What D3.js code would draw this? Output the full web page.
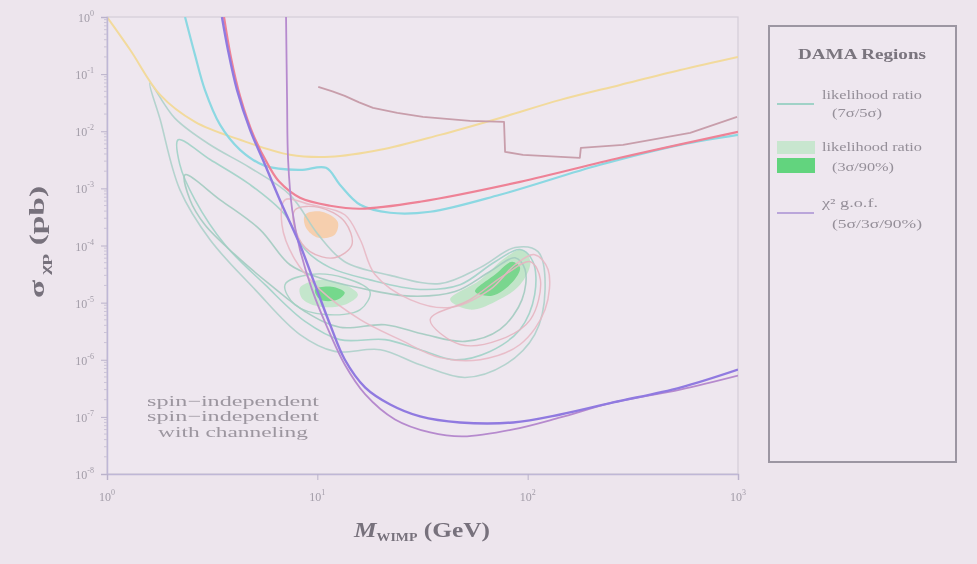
<!DOCTYPE html>
<html>
<head>
<meta charset="utf-8">
<script src="https://cdn.jsdelivr.net/npm/d3@7"></script>
<style>
  body { margin: 0; background: #ede5ed; }
  text { font-family: "Liberation Serif", "DejaVu Serif", serif; }
</style>
</head>
<body>
<svg id="chart"></svg>
<script>
// Chart size
var svgWidth = 977;
var svgHeight = 564;

var margin = { top: 17, right: 239, bottom: 90, left: 107 };

// Axis ticks (powers of ten)
var massTicks = [1, 10, 100, 1000];
var massExp = [0, 1, 2, 3];
var sigmaTicks = [1, 1e-1, 1e-2, 1e-3, 1e-4, 1e-5, 1e-6, 1e-7, 1e-8];
var sigmaExp = [0, -1, -2, -3, -4, -5, -6, -7, -8];

// Exclusion limits: [mass GeV, sigma pb]
var yellowLimit = [[1, 1.0], [1.29, 0.265], [1.79, 0.0433], [2.62, 0.0146], [4.29, 7.08e-3],
  [7.41, 3.87e-3], [11.5, 3.57e-3], [19.9, 4.73e-3], [38.3, 8.65e-3], [73.9, 0.0171],
  [143, 0.0354], [275, 0.0647], [531, 0.118], [1000, 0.2]];

var cyanLimit = [[2.35, 1.0], [2.62, 0.217], [2.92, 0.053], [3.45, 0.0129], [4.29, 4.73e-3],
  [5.64, 2.48e-3], [8.27, 2.11e-3], [11.0, 2.29e-3], [12.8, 1.16e-3], [16.0, 5.16e-4],
  [22.2, 3.74e-4], [34.4, 3.9e-4], [73.9, 7.73e-4], [221, 2.59e-3], [531, 5.78e-3], [1000, 8.65e-3]];

var redLimit = [[3.6, 1.0], [3.88, 0.2], [4.3, 0.04], [5.0, 8e-3], [5.9, 2.4e-3], [6.6, 1.3e-3],
  [8.27, 6.85e-4], [11.5, 4.97e-4], [16.0, 4.4e-4], [30.8, 5.83e-4], [92, 1.3e-3],
  [275, 3.43e-3], [1000, 9.77e-3]];

var mauveLimit = [[10.1, 0.0597], [11.8, 0.05], [13.5, 0.0416], [15.8, 0.032], [18.4, 0.0256],
  [24, 0.021], [31.8, 0.0179], [53.2, 0.0152], [77.2, 0.0146], [78.1, 4.36e-3],
  [95.1, 3.87e-3], [177, 3.43e-3], [179, 5.13e-3], [284, 5.78e-3], [592, 9.38e-3], [990, 0.0179]];

var xenonLimit = [[3.52, 1.0], [3.76, 0.265], [4.15, 0.053], [4.79, 0.0106], [5.64, 2.59e-3],
  [6.79, 5.16e-4], [8.27, 1.03e-4], [9.75, 2.06e-5], [11.5, 4.12e-6], [13.5, 1.01e-6],
  [16.9, 3.26e-7], [22.2, 1.65e-7], [30.8, 1.02e-7], [47.7, 7.98e-8], [85.3, 7.98e-8],
  [143, 1.10e-7], [255, 1.79e-7], [531, 3.26e-7], [1000, 6.74e-7]];

var cdmsLimit = [[7.10, 1.0], [7.18, 0.0354], [7.26, 3.16e-3], [7.59, 4.23e-4], [8.27, 8.45e-5],
  [9.44, 1.69e-5], [11.0, 4.12e-6], [13.5, 8.24e-7], [16.9, 2.47e-7], [23.4, 9.0e-8],
  [34.4, 5.33e-8], [49.3, 4.54e-8], [85.3, 6.03e-8], [143, 9.77e-8], [255, 1.79e-7],
  [531, 3.01e-7], [1000, 5.3e-7]];

// DAMA contours: [mass GeV, sigma pb]
var tealOuter = [[1.60, 7.0e-2], [2.10, 1.7e-2], [3.09, 5.8e-3], [4.79, 2.3e-3], [7.41, 7.7e-4],
  [10.1, 1.55e-4], [13.5, 5.2e-5], [22.2, 3.0e-5], [38.3, 2.15e-5], [59.4, 4.1e-5],
  [87.1, 9.2e-5], [112, 7.8e-5], [121, 1.7e-5], [108, 2.76e-6], [78.1, 8.2e-7],
  [50.4, 4.9e-7], [30.8, 8.2e-7], [19.9, 1.5e-6], [12.1, 1.4e-6], [8.27, 2.76e-6],
  [5.06, 1.69e-5], [3.09, 1.26e-4], [2.22, 9.5e-4], [1.79, 1.6e-2]];

var tealMid = [[2.18, 7.1e-3], [3.09, 3.2e-3], [4.79, 1.16e-3], [7.02, 3.45e-4], [8.74, 8.5e-5],
  [11.5, 4.1e-5], [17.8, 2.5e-5], [30.8, 1.7e-5], [47.7, 2.06e-5], [70.0, 5.2e-5],
  [92.0, 8.5e-5], [106, 5.2e-5], [108, 1.38e-5], [92.0, 3.4e-6], [66.2, 1.4e-6],
  [45.2, 1.0e-6], [30.8, 1.5e-6], [21.0, 2.25e-6], [12.8, 2.25e-6], [8.74, 4.7e-6],
  [5.64, 2.06e-5], [3.64, 1.03e-4], [2.62, 6.3e-4], [2.22, 2.6e-3]];

var tealInner = [[2.35, 1.73e-3], [3.45, 6.3e-4], [5.34, 1.9e-4], [7.41, 4.6e-5], [10.3, 2.7e-5],
  [16.0, 1.8e-5], [27.6, 1.3e-5], [45.2, 1.56e-5], [66.2, 3.5e-5], [87.1, 6.1e-5],
  [97.2, 3.8e-5], [94.0, 1.13e-5], [73.9, 3.4e-6], [50.4, 2.1e-6], [32.5, 2.76e-6],
  [21.0, 4.1e-6], [12.8, 3.7e-6], [8.74, 7.0e-6], [5.96, 2.06e-5], [4.06, 6.9e-5],
  [2.92, 2.3e-4], [2.48, 6.3e-4]];

var tealRingLow = [[7.02, 2.06e-5], [9.23, 3.1e-5], [13.5, 2.7e-5], [17.8, 1.56e-5],
  [16.0, 7.55e-6], [10.9, 6.2e-6], [7.83, 9.2e-6]];

var pinkOuter = [[7.02, 6.3e-4], [9.23, 5.2e-4], [13.5, 3.45e-4], [16.0, 1.26e-4], [18.8, 3.1e-5],
  [27.6, 1.13e-5], [42.8, 8.2e-6], [66.2, 1.69e-5], [87.1, 4.6e-5], [108, 6.9e-5],
  [125, 3.8e-5], [121, 7.55e-6], [92.0, 1.85e-6], [59.4, 1.0e-6], [38.3, 1.09e-6],
  [24.7, 2.25e-6], [16.0, 5.05e-6], [10.3, 1.69e-5], [7.83, 5.65e-5], [6.79, 2.3e-4]];

var pinkHigh = [[34.4, 5.05e-6], [53.2, 1.13e-5], [78.1, 3.1e-5], [103, 5.2e-5], [115, 2.5e-5],
  [103, 5.05e-6], [73.9, 2.25e-6], [47.7, 1.85e-6]];

var pinkInner = [[7.83, 4.2e-4], [10.3, 4.6e-4], [13.5, 2.6e-4], [14.6, 1.03e-4], [12.1, 6.1e-5],
  [9.23, 7.8e-5], [7.92, 1.74e-4]];

var orangeBlob = [[8.74, 3.45e-4], [10.5, 3.9e-4], [12.5, 2.6e-4], [12.1, 1.55e-4], [10.1, 1.37e-4],
  [8.83, 2.05e-4]];

var greenLightLow = [[8.27, 1.83e-5], [10.3, 2.5e-5], [13.5, 2.06e-5], [15.6, 1.38e-5],
  [13.5, 9.2e-6], [10.3, 8.5e-6], [8.55, 1.13e-5]];
var greenDarkLow = [[9.75, 1.69e-5], [11.7, 1.9e-5], [13.5, 1.5e-5], [12.5, 1.13e-5], [10.3, 1.13e-5]];

var greenLightHigh = [[42.8, 1.13e-5], [59.4, 2.5e-5], [78.1, 6.1e-5], [94.0, 8.5e-5], [103, 5.2e-5],
  [92.0, 2.06e-5], [70.0, 1.04e-5], [53.2, 7.55e-6]];
var greenDarkHigh = [[56.2, 1.56e-5], [70.0, 3.1e-5], [84.3, 5.2e-5], [92.0, 4.1e-5], [84.3, 2.24e-5],
  [67.7, 1.32e-5]];

var annotationLines = ["spin\u2212independent", "spin\u2212independent", "with channeling"];

var legendTitle = "DAMA Regions";
var legendLabels = [
  ["likelihood ratio", "(7\u03c3/5\u03c3)"],
  ["likelihood ratio", "(3\u03c3/90%)"],
  ["\u03c7\u00b2 g.o.f.", "(5\u03c3/3\u03c3/90%)"]
];

// svg setup
var svg = d3.select("#chart")
  .attr("width", svgWidth)
  .attr("height", svgHeight);

// soft blur, the reference is a faded scan
var defs = svg.append("defs");
defs.append("filter").attr("id", "soft")
  .append("feGaussianBlur").attr("stdDeviation", 0.55);

defs.append("clipPath").attr("id", "plotClip")
  .append("rect").attr("x", 107).attr("y", 17).attr("width", 631).attr("height", 457);

var root = svg.append("g").attr("filter", "url(#soft)");

root.append("rect")
  .attr("width", svgWidth)
  .attr("height", svgHeight)
  .attr("fill", "#ede5ed");

var x0 = margin.left, x1 = svgWidth - margin.right;   // 107 .. 738
var y0 = margin.top, y1 = svgHeight - margin.bottom;  // 17 .. 474

var xScale = d3.scaleLog().domain([1, 1000]).range([x0, x1]);
var yScale = d3.scaleLog().domain([1e-8, 1]).range([y1, y0]);

// plot frame
root.append("rect")
  .attr("x", x0).attr("y", y0)
  .attr("width", x1 - x0).attr("height", y1 - y0)
  .attr("fill", "#eee7ef")
  .attr("stroke", "#d4cdd8")
  .attr("stroke-width", 1.2);

var plot = root.append("g").attr("clip-path", "url(#plotClip)");

var line = d3.line()
  .x(d => xScale(d[0]))
  .y(d => yScale(d[1]))
  .curve(d3.curveCatmullRom.alpha(0.5));

var stepLine = d3.line()
  .x(d => xScale(d[0]))
  .y(d => yScale(d[1]));

var closedLine = d3.line()
  .x(d => xScale(d[0]))
  .y(d => yScale(d[1]))
  .curve(d3.curveCatmullRomClosed.alpha(0.5));

// filled regions first
plot.append("path").datum(greenLightLow).attr("d", closedLine).attr("fill", "#bfe6c8").attr("opacity", 0.9);
plot.append("path").datum(greenLightHigh).attr("d", closedLine).attr("fill", "#bce4c4").attr("opacity", 0.9);
plot.append("path").datum(greenDarkLow).attr("d", closedLine).attr("fill", "#74d88c");
plot.append("path").datum(greenDarkHigh).attr("d", closedLine).attr("fill", "#7ad68e");
plot.append("path").datum(orangeBlob).attr("d", closedLine).attr("fill", "#f6cca6").attr("opacity", 0.9);

// contour lines
var contours = [
  { data: tealOuter, color: "#add0ca", width: 1.6 },
  { data: tealMid, color: "#a0d2c7", width: 1.6 },
  { data: tealInner, color: "#a2cbc0", width: 1.6 },
  { data: tealRingLow, color: "#a2d0c2", width: 1.4 },
  { data: pinkOuter, color: "#e8b8c4", width: 1.5 },
  { data: pinkHigh, color: "#e6b4c0", width: 1.4 },
  { data: pinkInner, color: "#e4b0ba", width: 1.4 }
];

contours.forEach(function(c) {
  plot.append("path")
    .datum(c.data)
    .attr("d", closedLine)
    .attr("fill", "none")
    .attr("stroke", c.color)
    .attr("stroke-width", c.width)
    .attr("opacity", 0.9);
});

// exclusion curves
var limits = [
  { data: yellowLimit, color: "#f2da9c", width: 2 },
  { data: mauveLimit, color: "#c89eab", width: 1.8 },
  { data: cyanLimit, color: "#8cd8e2", width: 2.2 },
  { data: redLimit, color: "#ee8296", width: 2.2 },
  { data: cdmsLimit, color: "#b68ace", width: 1.8 },
  { data: xenonLimit, color: "#907ae0", width: 2.4 }
];

limits.forEach(function(l) {
  plot.append("path")
    .datum(l.data)
    .attr("d", l.data === mauveLimit ? stepLine : line)
    .attr("fill", "none")
    .attr("stroke", l.color)
    .attr("stroke-width", l.width)
    .attr("stroke-linejoin", "round");
});

// axes
var leftAxis = d3.axisLeft(yScale).tickValues(sigmaTicks).tickFormat(() => "").tickSize(6);
var bottomAxis = d3.axisBottom(xScale).tickValues(massTicks).tickFormat(() => "").tickSize(6);

var yAxisG = root.append("g").attr("transform", `translate(${x0},0)`).call(leftAxis);
var xAxisG = root.append("g").attr("transform", `translate(0,${y1})`).call(bottomAxis);

[yAxisG, xAxisG].forEach(function(g) {
  g.select(".domain").attr("stroke", "#bfb7d6").attr("stroke-width", 1.5);
  g.selectAll(".tick line").attr("stroke", "#bab2ca");
});

// minor ticks
var minorY = [];
sigmaExp.slice(1).forEach(function(e) {
  [2, 3, 4, 5, 6, 7, 8, 9].forEach(function(m) { minorY.push(m * Math.pow(10, e)); });
});
root.append("g").selectAll("line").data(minorY).enter().append("line")
  .attr("x1", x0).attr("x2", x0 - 3)
  .attr("y1", d => yScale(d)).attr("y2", d => yScale(d))
  .attr("stroke", "#cbc3d7");

// tick labels with superscripts
root.append("g").selectAll("text").data(sigmaTicks).enter().append("text")
  .attr("x", x0 - 13)
  .attr("y", d => yScale(d) + 5)
  .attr("text-anchor", "end")
  .attr("font-size", 12)
  .attr("fill", "#a29ca8")
  .each(function(d, i) {
    var t = d3.select(this);
    t.append("tspan").text("10");
    t.append("tspan").attr("dy", -6).attr("font-size", 8).text(sigmaExp[i]);
  });

root.append("g").selectAll("text").data(massTicks).enter().append("text")
  .attr("x", d => xScale(d))
  .attr("y", y1 + 27)
  .attr("text-anchor", "middle")
  .attr("font-size", 12)
  .attr("fill", "#a29ca8")
  .each(function(d, i) {
    var t = d3.select(this);
    t.append("tspan").text("10");
    t.append("tspan").attr("dy", -6).attr("font-size", 8).text(massExp[i]);
  });

// axis titles
var yTitle = root.append("text")
  .attr("transform", "translate(44,242) rotate(-90)")
  .attr("text-anchor", "middle")
  .attr("font-size", 21)
  .attr("font-weight", "bold")
  .attr("fill", "#77717c")
  .attr("textLength", 112)
  .attr("lengthAdjust", "spacingAndGlyphs");
yTitle.append("tspan").text("\u03c3");
yTitle.append("tspan").attr("dy", 5).attr("font-size", 13).text(" \u03c7p");
yTitle.append("tspan").attr("dy", -5).text(" (pb)");

var xTitle = root.append("text")
  .attr("x", 422)
  .attr("y", 537)
  .attr("text-anchor", "middle")
  .attr("font-size", 22)
  .attr("font-weight", "bold")
  .attr("fill", "#77717c")
  .attr("textLength", 136)
  .attr("lengthAdjust", "spacingAndGlyphs");
xTitle.append("tspan").attr("font-style", "italic").text("M");
xTitle.append("tspan").attr("dy", 4).attr("font-size", 12).text("WIMP");
xTitle.append("tspan").attr("dy", -4).text(" (GeV)");

// annotation
var annY = [406, 421, 437];
var annLen = [172, 172, 150];
root.append("g").selectAll("text").data(annotationLines).enter().append("text")
  .attr("x", 233)
  .attr("y", (d, i) => annY[i])
  .attr("text-anchor", "middle")
  .attr("font-size", 15)
  .attr("fill", "#8e8892")
  .attr("opacity", 0.85)
  .attr("textLength", (d, i) => annLen[i])
  .attr("lengthAdjust", "spacingAndGlyphs")
  .text(d => d);

// legend
var legend = root.append("g");
legend.append("rect")
  .attr("x", 769).attr("y", 26)
  .attr("width", 187).attr("height", 436)
  .attr("fill", "#eee7ef")
  .attr("stroke", "#9c96a2")
  .attr("stroke-width", 2);

legend.append("text")
  .attr("x", 862).attr("y", 59)
  .attr("text-anchor", "middle")
  .attr("font-size", 15)
  .attr("font-weight", "bold")
  .attr("fill", "#7a747e")
  .attr("textLength", 128)
  .attr("lengthAdjust", "spacingAndGlyphs")
  .text(legendTitle);

legend.append("line")
  .attr("x1", 777).attr("x2", 814).attr("y1", 104).attr("y2", 104)
  .attr("stroke", "#a0d2c7").attr("stroke-width", 2);
legend.append("rect")
  .attr("x", 777).attr("y", 141).attr("width", 38).attr("height", 13)
  .attr("fill", "#c8e6cf");
legend.append("rect")
  .attr("x", 777).attr("y", 158).attr("width", 38).attr("height", 15)
  .attr("fill", "#62d47e");
legend.append("line")
  .attr("x1", 777).attr("x2", 814).attr("y1", 213).attr("y2", 213)
  .attr("stroke", "#baa6da").attr("stroke-width", 2);

var legendY = [[99, 117], [151, 171], [207, 228]];
var legendLen = [[100, 50], [100, 62], [56, 90]];
legendLabels.forEach(function(lbl, i) {
  legend.append("text")
    .attr("x", 822).attr("y", legendY[i][0])
    .attr("font-size", 12).attr("fill", "#958f99")
    .attr("textLength", legendLen[i][0]).attr("lengthAdjust", "spacingAndGlyphs")
    .text(lbl[0]);
  legend.append("text")
    .attr("x", 832).attr("y", legendY[i][1])
    .attr("font-size", 12).attr("fill", "#958f99")
    .attr("textLength", legendLen[i][1]).attr("lengthAdjust", "spacingAndGlyphs")
    .text(lbl[1]);
});
</script>
</body>
</html>
